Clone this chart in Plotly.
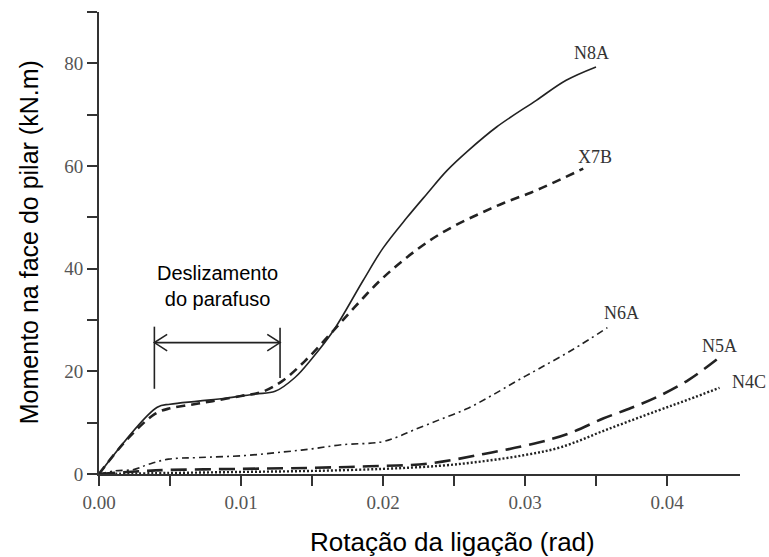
import plotly.graph_objects as go

# ---------------- data ----------------
rot_N8A = [0, 0.0041, 0.0050, 0.0070, 0.0090, 0.0110, 0.0124, 0.0138, 0.0150, 0.0165,
           0.0186, 0.0200, 0.0217, 0.0231, 0.0245, 0.0260, 0.0280, 0.0308, 0.0329, 0.0350]
mom_N8A = [0, 13.0, 13.6, 14.2, 14.8, 15.6, 16.1, 18.8, 22.5, 27.9,
           37.7, 44.0, 50.0, 54.6, 59.1, 63.0, 67.6, 72.8, 76.7, 79.3]

rot_X7B = [0, 0.0020, 0.0040, 0.0050, 0.0065, 0.0080, 0.0100, 0.0115, 0.0129, 0.0145, 0.0163,
           0.0180, 0.0198, 0.0215, 0.0233, 0.0250, 0.0268, 0.0285, 0.0304, 0.0322, 0.0341]
mom_X7B = [0, 6.8, 11.8, 12.8, 13.5, 14.2, 15.2, 16.0, 18.1, 22.0, 27.3,
           32.5, 37.7, 41.8, 45.5, 48.3, 50.7, 52.8, 54.8, 57.0, 59.5]

rot_N6A = [0, 0.0011, 0.0025, 0.0035, 0.0049, 0.0070, 0.0103, 0.0130, 0.0150, 0.0171,
           0.0198, 0.0210, 0.0222, 0.0240, 0.0259, 0.0276, 0.0294, 0.0311, 0.0334, 0.0358]
mom_N6A = [0, 0.6, 0.9, 1.9, 2.9, 3.2, 3.6, 4.3, 4.9, 5.7,
           6.2, 7.2, 8.6, 10.6, 12.7, 15.2, 18.1, 20.7, 24.3, 28.5]

rot_N5A = [0, 0.0040, 0.0100, 0.0150, 0.0190, 0.0231, 0.0271, 0.0306, 0.0330, 0.0355,
           0.0375, 0.0393, 0.0415, 0.0435]
mom_N5A = [0, 0.7, 1.0, 1.2, 1.5, 2.0, 3.9, 5.9, 7.8, 10.8, 12.9, 15.0, 18.3, 22.3]

rot_N4C = [0, 0.0050, 0.0100, 0.0150, 0.0200, 0.0240, 0.0271, 0.0300, 0.0325, 0.0358,
           0.0393, 0.0415, 0.0437]
mom_N4C = [0, 0.2, 0.4, 0.6, 1.0, 1.6, 2.5, 3.7, 5.2, 8.7, 12.3, 14.5, 16.8]

series_names = ["N8A", "X7B", "N6A", "N5A", "N4C"]
label_x = [0.0347, 0.0349, 0.0368, 0.0437, 0.0458]
label_y = [82.0, 61.7, 31.4, 25.0, 17.9]

x_tickvals = [0, 0.005, 0.01, 0.015, 0.02, 0.025, 0.03, 0.035, 0.04]
x_ticktext = ["0.00", "", "0.01", "", "0.02", "", "0.03", "", "0.04"]
y_tickvals = [0, 10, 20, 30, 40, 50, 60, 70, 80, 90]
y_ticktext = ["0", "", "20", "", "40", "", "60", "", "80", ""]

x_title = "Rotação da ligação (rad)"
y_title = "Momento na face do pilar (kN.m)"

slip_text = "Deslizamento<br>do parafuso"
slip_start, slip_end = 0.0039, 0.01275
slip_text_y = 36.6
slip_arrow_y = 25.6
slip_left_bar = (16.6, 28.7)
slip_right_bar = (18.7, 28.5)

X_MAX, Y_MAX = 0.04514, 90

# ---------------- figure ----------------
ink = "#222222"
fig = go.Figure()

styles = [
    dict(width=1.6, dash="solid"),
    dict(width=2.6, dash="9px,6px"),
    dict(width=1.6, dash="7px,4px,2px,4px"),
    dict(width=2.6, dash="16px,8px"),
    dict(width=2.4, dash="2px,2px"),
]
data = [(rot_N8A, mom_N8A), (rot_X7B, mom_X7B), (rot_N6A, mom_N6A),
        (rot_N5A, mom_N5A), (rot_N4C, mom_N4C)]
for (xs, ys), name, st in zip(data, series_names, styles):
    fig.add_trace(go.Scatter(x=xs, y=ys, mode="lines", name=name,
                             line=dict(color=ink, width=st["width"], dash=st["dash"],
                                       shape="spline", smoothing=1.0),
                             showlegend=False, hoverinfo="skip", cliponaxis=False))

# curve labels (paper coordinates derived from the data values so that
# labels beyond the axis range are still drawn)
for name, lx, ly in zip(series_names, label_x, label_y):
    fig.add_annotation(x=lx / X_MAX, y=ly / Y_MAX, xref="paper", yref="paper",
                       xanchor="center", yanchor="middle",
                       text=name, showarrow=False,
                       font=dict(family="Liberation Serif", size=18, color="#333333"))

# slip bracket
fig.add_annotation(x=(slip_start + slip_end) / 2, y=slip_text_y, text=slip_text, showarrow=False,
                   xanchor="center", yanchor="middle",
                   font=dict(family="Liberation Sans", size=20, color="black"))
line_style = dict(color=ink, width=1.6)
fig.add_shape(type="line", x0=slip_start, x1=slip_start, y0=slip_left_bar[0], y1=slip_left_bar[1],
              line=line_style)
fig.add_shape(type="line", x0=slip_end, x1=slip_end, y0=slip_right_bar[0], y1=slip_right_bar[1],
              line=line_style)
fig.add_shape(type="line", x0=slip_start, x1=slip_end, y0=slip_arrow_y, y1=slip_arrow_y,
              line=line_style)
adx, ady = 0.0009, 1.6
fig.add_shape(type="path",
              path=f"M {slip_start + adx},{slip_arrow_y + ady} L {slip_start},{slip_arrow_y} L {slip_start + adx},{slip_arrow_y - ady}",
              line=line_style)
fig.add_shape(type="path",
              path=f"M {slip_end - adx},{slip_arrow_y + ady} L {slip_end},{slip_arrow_y} L {slip_end - adx},{slip_arrow_y - ady}",
              line=line_style)

# axis titles
fig.add_annotation(x=0.551, y=-0.147, xref="paper", yref="paper", text=x_title,
                   xanchor="center", yanchor="middle",
                   showarrow=False, font=dict(family="Liberation Sans", size=26, color="black"))
fig.add_annotation(x=-0.109, y=0.502, xref="paper", yref="paper", text=y_title, textangle=-90,
                   xanchor="center", yanchor="middle",
                   showarrow=False, font=dict(family="Liberation Sans", size=25, color="black"))

axis_common = dict(showgrid=False, zeroline=False, showline=True, linecolor="#333333",
                   linewidth=2, ticks="outside", ticklen=10, tickwidth=2, tickcolor="#333333",
                   automargin=False,
                   tickfont=dict(family="Liberation Serif", size=19, color="#555555"))
fig.update_xaxes(range=[0, X_MAX], tickvals=x_tickvals, ticktext=x_ticktext, **axis_common)
fig.update_yaxes(range=[0, Y_MAX], tickvals=y_tickvals, ticktext=y_ticktext, **axis_common)

fig.update_layout(width=769, height=557,
                  margin=dict(l=99, r=29, t=12, b=83),
                  plot_bgcolor="white", paper_bgcolor="white")

# remove the default page margin so the figure fills the window exactly
page_js = "document.body.style.margin='0';document.body.style.overflow='hidden';"
fig.write_html("out.html", post_script=page_js, config={"displayModeBar": False})
